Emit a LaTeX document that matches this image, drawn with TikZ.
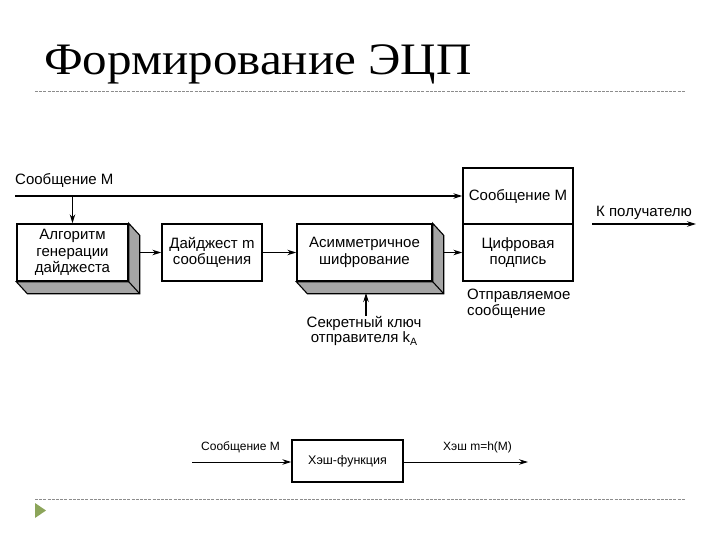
\documentclass[tikz,border=0pt]{standalone}
\usepackage{fontspec}
\setmainfont{Liberation Serif}
\newfontfamily\lsans{Liberation Sans}
\usetikzlibrary{arrows.meta,calc}
\definecolor{shadowgray}{RGB}{165,165,165}
\definecolor{bulletgreen}{RGB}{140,165,90}
\begin{document}
\begin{tikzpicture}[x=1pt,y=-1pt,
  arr/.style={line width=1.1pt,-{Stealth[length=9pt,width=5.5pt]}},
  blk/.style={draw,line width=1.4pt,fill=white,inner sep=0pt,align=center,font=\lsans\fontsize{15}{16.5}\selectfont},
  lbl/.style={inner sep=0pt,font=\lsans\fontsize{15}{15.5}\selectfont},
  small/.style={inner sep=0pt,font=\lsans\fontsize{12}{13}\selectfont},
  extr/.style={draw,line width=1.1pt,fill=shadowgray},
  sep/.style={draw=black!45,line width=0.6pt,dash pattern=on 3pt off 1.2pt}]
\useasboundingbox (0,0) rectangle (720,540);
% title
\node[anchor=base west,inner sep=0pt,font=\fontsize{45}{50}\selectfont] (title) at (44,75) {\scalebox{1.09}[1]{Формирование ЭЦП}};
\coordinate (s1a) at (35,91); \coordinate (s1b) at (685,91);
\draw[sep] (s1a) -- (s1b);
\coordinate (s2a) at (35,499); \coordinate (s2b) at (685,499);
\draw[sep] (s2a) -- (s2b);
\coordinate (t1) at (35,503); \coordinate (t2) at (46,510.5); \coordinate (t3) at (35,518);
\fill[bulletgreen] (t1) -- (t2) -- (t3) -- cycle;

% main diagram
\node[lbl,anchor=base west] (msgL) at (15,185) {Сообщение М};
\coordinate (msgStart) at (15,196);

\node[blk,minimum width=111pt,minimum height=57pt] (b1) at (72.5,252.5) {Алгоритм\\генерации\\дайджеста};
\node[blk,minimum width=100pt,minimum height=57pt] (b2) at (212,252.5) {Дайджест m\\сообщения};
\node[blk,minimum width=135pt,minimum height=57pt] (b3) at (364.5,252.5) {Асимметричное\\шифрование};
\node[blk,minimum width=110pt,minimum height=56pt] (msgBox) at (518,196) {Сообщение М};
\node[blk,minimum width=110pt,minimum height=57pt] (sig) at (518,252.5) {Цифровая\\подпись};

% extrusions
\foreach \b in {b1,b3}{
  \path[extr] (\b.north east) -- ([shift={(11,12)}]\b.north east) -- ([shift={(11,12)}]\b.south east)
    -- ([shift={(11,12)}]\b.south west) -- (\b.south west) -- (\b.south east) -- cycle;
  \draw[line width=1.1pt] (\b.south east) -- ([shift={(11,12)}]\b.south east);
}

\draw[arr] (msgStart) -- (msgBox.west |- msgStart);
\draw[arr] (b1.north |- msgStart) -- (b1.north);
\draw[arr] ([xshift=11pt]b1.east) -- (b2.west);
\draw[arr] (b2.east) -- (b3.west);
\draw[arr] ([xshift=11pt]b3.east) -- (sig.west);

\node[lbl,anchor=north west,align=left] (sent) at (467,289) {Отправляемое\\сообщение};

\node[lbl,anchor=base west] (recv) at (596,216) {К получателю};
\coordinate (outA) at (592,224);
\coordinate (outB) at (696,224);
\draw[arr] (outA) -- (outB);

\node[lbl,align=center,anchor=north] (key) at (364,316) {Секретный ключ\\отправителя k\raisebox{-0.35ex}{\fontsize{10.5}{10.5}\selectfont A}};
\draw[arr] (key.north -| 366,0) -- (366,293);

% hash diagram
\node[blk,minimum width=111pt,minimum height=42pt,font=\lsans\fontsize{12.5}{14}\selectfont] (hash) at (347.5,461) {Хэш-функция};
\coordinate (hin) at (192,462);
\coordinate (hout) at (528,462);
\draw[arr,line width=1pt] (hin) -- (hash.west |- hin);
\draw[arr,line width=1pt] (hash.east |- hout) -- (hout);
\node[small,anchor=base west] (hinL) at (201,450) {Сообщение М};
\node[small,anchor=base west] (houtL) at (443,450) {Хэш m=h(M)};
\end{tikzpicture}
\end{document}
